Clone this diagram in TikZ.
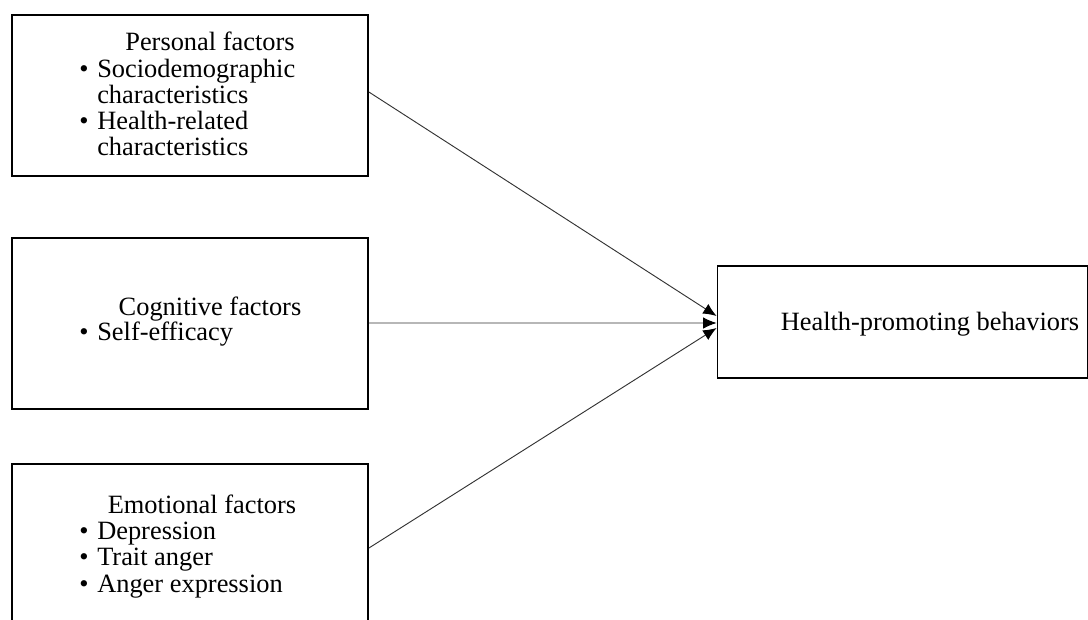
\documentclass[tikz,border=0pt]{standalone}
\usepackage{fontspec}
\setmainfont{Liberation Serif}
\usetikzlibrary{arrows.meta}
\begin{document}
\begin{tikzpicture}[x=0.75pt,y=-0.75pt,
  box/.style={draw,line width=1.4pt,inner sep=0pt},
  txt/.style={inner sep=0pt,font=\fontsize{19.8}{22}\selectfont},
  ttl/.style={txt,anchor=base},
  itm/.style={txt,anchor=base west},
  bul/.style={txt,anchor=base},
  conn/.style={line width=0.7pt,draw=black!80,-{Latex[length=10pt,width=8.5pt,fill=black,color=black]}}]
\path[use as bounding box,clip] (0,0) rectangle (1088,619);
% boxes
\node[box,minimum width=267pt,minimum height=120.75pt] (b1) at (190,95.5) {};
\node[box,minimum width=267pt,minimum height=128.25pt] (b2) at (190,323.5) {};
\node[box,minimum width=267pt,minimum height=147pt] (b3) at (190,562) {};
\node[box,minimum width=277.5pt,minimum height=84pt] (b4) at (902.5,322) {};
% box 1 text
\node[ttl] (t1) at (210,50) {Personal factors};
\node[bul] (t1b1) at (84,77) {\textbullet};
\node[itm] (t1a) at (97,77) {Sociodemographic};
\node[itm] (t1b) at (97,103) {characteristics};
\node[bul] (t1b2) at (84,129) {\textbullet};
\node[itm] (t1c) at (97,129) {Health-related};
\node[itm] (t1d) at (97,155) {characteristics};
% box 2 text
\node[ttl] (t2) at (210,315) {Cognitive factors};
\node[bul] (t2b1) at (84,340) {\textbullet};
\node[itm] (t2a) at (97,340) {Self-efficacy};
% box 3 text
\node[ttl] (t3) at (202,513) {Emotional factors};
\node[bul] (t3b1) at (84,539) {\textbullet};
\node[itm] (t3a) at (97,539) {Depression};
\node[bul] (t3b2) at (84,565) {\textbullet};
\node[itm] (t3b) at (97,565) {Trait anger};
\node[bul] (t3b3) at (84,592) {\textbullet};
\node[itm] (t3c) at (97,592) {Anger expression};
% box 4 text
\node[ttl] (t4) at (930,330) {Health-promoting behaviors};
% connectors
\draw[conn] ([yshift=2.6pt]b1.east) -- ([yshift=4.5pt]b4.west);
\draw[conn] ([yshift=0.4pt]b2.east) -- ([yshift=-0.75pt]b4.west);
\draw[conn] ([yshift=10.5pt]b3.east) -- ([yshift=-4.5pt]b4.west);
\end{tikzpicture}
\end{document}
